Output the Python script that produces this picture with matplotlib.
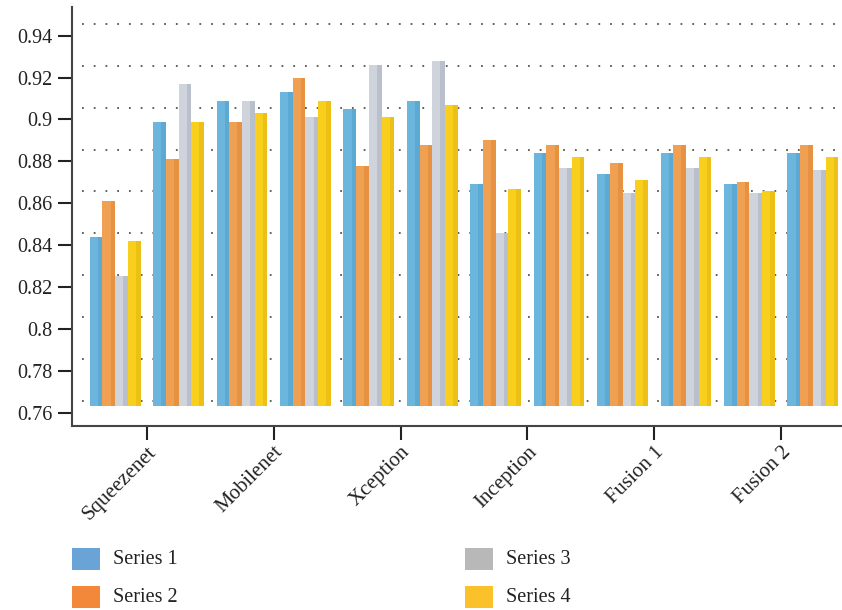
import matplotlib
matplotlib.use("Agg")
import matplotlib.pyplot as plt
from matplotlib.patches import Rectangle
import numpy as np

# ---- data ----
tick_labels = ["Squeezenet", "Mobilenet", "Xception", "Inception", "Fusion 1", "Fusion 2"]
series_names = ["Series 1", "Series 2", "Series 3", "Series 4"]
series1 = [0.844, 0.899, 0.909, 0.913, 0.905, 0.909, 0.869, 0.884, 0.874, 0.884, 0.869, 0.884]
series2 = [0.861, 0.881, 0.899, 0.920, 0.878, 0.888, 0.890, 0.888, 0.879, 0.888, 0.870, 0.888]
series3 = [0.825, 0.917, 0.909, 0.901, 0.926, 0.928, 0.846, 0.877, 0.865, 0.877, 0.865, 0.876]
series4 = [0.842, 0.899, 0.903, 0.909, 0.901, 0.907, 0.867, 0.882, 0.871, 0.882, 0.866, 0.882]
y_ticks = [0.76, 0.78, 0.80, 0.82, 0.84, 0.86, 0.88, 0.90, 0.92, 0.94]
bar_base = 0.763

face_colors = ["#6cb6dd", "#f0a052", "#cfd4dc", "#f9cf1e"]
side_colors = ["#58a6d2", "#e58f3c", "#b5bcc7", "#e9bd12"]
legend_colors = ["#6aa3d6", "#f3873a", "#b8b8b8", "#fbc12a"]

plt.rcParams["font.family"] = ["Liberation Serif", "DejaVu Serif"]

W, H = 842, 610
fig = plt.figure(figsize=(W / 100, H / 100), dpi=100)
ax = fig.add_axes([72 / W, 1 - 426 / H, (W - 72) / W, (426 - 7) / H])

all_series = [series1, series2, series3, series4]
n_groups = len(series1)
x = np.arange(n_groups)
bw = 0.2

# back-wall dotted grid (offset upward like the 3D original)
grid_offset = 0.0056
for t in y_ticks:
    ax.hlines(t + grid_offset, -0.52, 11.6, colors="#555555", linestyles=(0, (1, 5.5)),
              linewidth=1.3, zorder=1)

for i, vals in enumerate(all_series):
    xs = x + (i - 1.5) * bw
    heights = np.array(vals) - bar_base
    ax.bar(xs, heights, width=bw, bottom=bar_base, color=face_colors[i],
           edgecolor="none", zorder=2 + i * 0.1, align="center")
    # darker side strip for a slight 3D look
    ax.bar(xs + bw * 0.32, heights, width=bw * 0.36, bottom=bar_base,
           color=side_colors[i], edgecolor="none", zorder=2.05 + i * 0.1, alpha=0.8)

ax.set_xlim(-0.68, 11.46)
ax.set_ylim(0.7536, 0.9537)

ax.set_yticks(y_ticks)
ax.set_yticklabels([f"{t:g}" for t in y_ticks])
ax.set_xticks(np.arange(0.5, n_groups, 2))
ax.set_xticklabels(tick_labels, rotation=45, ha="right", va="top", rotation_mode="anchor")

ax.tick_params(axis="both", direction="out", length=10, width=1.5, color="#222222",
               labelsize=14.5, labelcolor="#222222")
ax.tick_params(axis="y", pad=4)
ax.tick_params(axis="x", pad=2)
for lbl in ax.get_xticklabels():
    lbl.set_fontsize(15)

for s in ["top", "right"]:
    ax.spines[s].set_visible(False)
for s in ["left", "bottom"]:
    ax.spines[s].set_color("#444444")
    ax.spines[s].set_linewidth(1.5)

# legend (two columns, two rows)
leg_pos = [(72, 548), (72, 586), (465, 548), (465, 586)]
for (px, py), name, col in zip(leg_pos, series_names, legend_colors):
    fig.add_artist(Rectangle((px / W, 1 - (py + 22) / H), 28 / W, 22 / H,
                             transform=fig.transFigure, color=col, linewidth=0))
    fig.text((px + 41) / W, 1 - (py + 11) / H, name, fontsize=14.5, color="#222222",
             va="center", ha="left")

fig.savefig("out.png", dpi=100)
